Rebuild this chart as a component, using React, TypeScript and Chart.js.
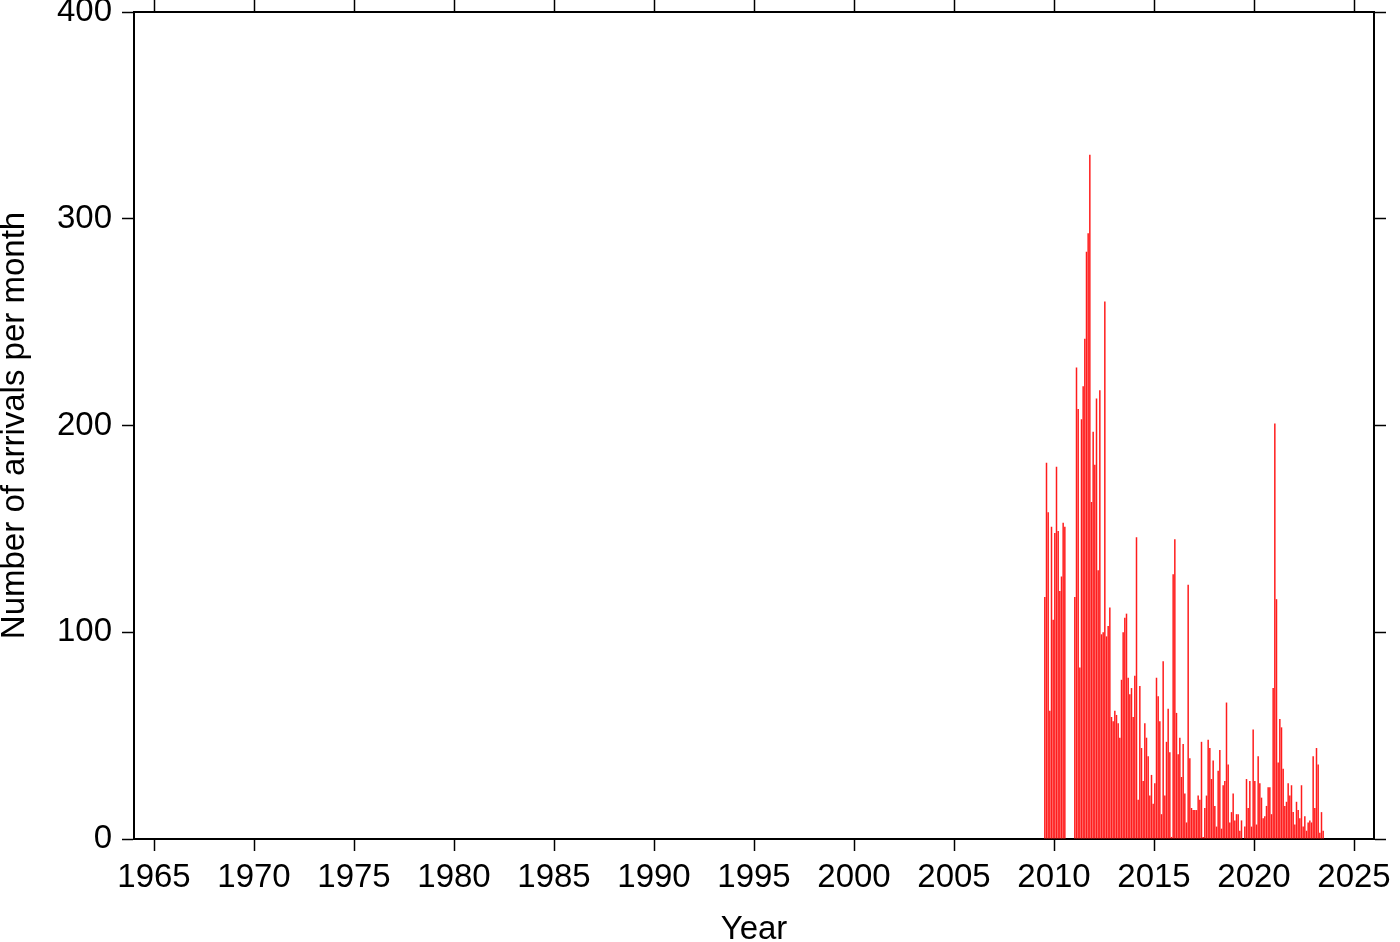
import React, { useEffect, useRef } from "react";
import { Chart, registerables } from "chart.js";

Chart.register(...registerables);

// Monthly arrival counts (first array starts in July 2009, last ends in June 2023)
const startYear = 2009;
const startMonthIndex = 6; // July (0-based)
const arrivals2009 = [117, 182, 158, 62, 151, 106];
const arrivals2010 = [148, 180, 149, 120, 127, 153, 151, 0, 0, 0, 0, 0];
const arrivals2011 = [117, 228, 208, 83, 203, 219, 242, 284, 293, 331, 163, 197];
const arrivals2012 = [181, 213, 130, 217, 99, 100, 260, 98, 103, 112, 59, 57];
const arrivals2013 = [62, 60, 56, 49, 77, 100, 107, 109, 78, 70, 73, 59];
const arrivals2014 = [79, 146, 19, 74, 44, 28, 56, 49, 40, 21, 31, 17];
const arrivals2015 = [27, 78, 69, 57, 12, 86, 21, 47, 63, 42, 1, 128];
const arrivals2016 = [145, 61, 41, 49, 30, 46, 22, 8, 123, 39, 15, 14];
const arrivals2017 = [14, 14, 21, 19, 47, 1, 15, 21, 48, 44, 29, 38];
const arrivals2018 = [16, 6, 33, 43, 5, 26, 28, 66, 36, 8, 13, 22];
const arrivals2019 = [9, 12, 12, 4, 9, 0, 6, 29, 15, 28, 6, 53];
const arrivals2020 = [28, 7, 40, 27, 20, 10, 11, 16, 25, 25, 12, 73];
const arrivals2021 = [201, 116, 37, 58, 54, 34, 16, 18, 27, 21, 26, 13];
const arrivals2022 = [7, 18, 14, 10, 26, 6, 11, 4, 8, 9, 8, 40];
const arrivals2023 = [15, 44, 36, 3, 13, 4];

const yearlySeries = [
  arrivals2009, arrivals2010, arrivals2011, arrivals2012, arrivals2013,
  arrivals2014, arrivals2015, arrivals2016, arrivals2017, arrivals2018,
  arrivals2019, arrivals2020, arrivals2021, arrivals2022, arrivals2023,
];

const xTickYears = [1965, 1970, 1975, 1980, 1985, 1990, 1995, 2000, 2005, 2010, 2015, 2020, 2025];
const yTickValues = [0, 100, 200, 300, 400];
const xMin = 1964;
const xMax = 2026;
const yMin = 0;
const yMax = 400;

const xTitle = "Year";
const yTitle = "Number of arrivals per month";

function buildPoints() {
  const pts: { x: number; y: number }[] = [];
  yearlySeries.forEach((arr, i) => {
    const year = startYear + i;
    const offset = i === 0 ? startMonthIndex : 0;
    arr.forEach((v, k) => {
      pts.push({ x: year + (offset + k + 0.5) / 12, y: v });
    });
  });
  return pts;
}

const FONT = '"Liberation Sans", Arial, Helvetica, sans-serif';

export default function App() {
  const ref = useRef<HTMLCanvasElement>(null);

  useEffect(() => {
    const grid = {
      offset: false,
      drawOnChartArea: false,
      drawTicks: true,
      tickLength: 12,
      tickColor: "#000",
      tickWidth: 1.5,
    };
    const border = { display: true, color: "#000", width: 2 };
    const setXTicks = (s: any) => {
      s.ticks = xTickYears.map((v) => ({ value: v }));
    };
    const setYTicks = (s: any) => {
      s.ticks = yTickValues.map((v) => ({ value: v }));
    };
    const noPad = (s: any) => {
      s.paddingTop = 0;
      s.paddingBottom = 0;
      s.paddingLeft = 0;
      s.paddingRight = 0;
    };

    const chart = new Chart(ref.current as HTMLCanvasElement, {
      type: "bar",
      data: {
        datasets: [
          {
            data: buildPoints(),
            backgroundColor: "#ff1c1c",
            borderWidth: 0,
            barPercentage: 0.9,
            categoryPercentage: 1,
          } as any,
        ],
      },
      options: {
        animation: false,
        responsive: false,
        maintainAspectRatio: false,
        layout: { padding: 0 },
        plugins: { legend: { display: false }, tooltip: { enabled: false } },
        scales: {
          x: {
            type: "linear",
            position: "bottom",
            offset: false,
            min: xMin,
            max: xMax,
            afterBuildTicks: setXTicks,
            afterFit: (s: any) => {
              s.height = 103;
              noPad(s);
            },
            grid,
            border,
            ticks: {
              color: "#000",
              font: { family: FONT, size: 33 },
              padding: 7,
              maxRotation: 0,
              autoSkip: false,
              callback: (v: any) => String(v),
            },
            title: {
              display: true,
              text: xTitle,
              color: "#000",
              font: { family: FONT, size: 33, lineHeight: 0.75 },
              padding: { top: 0, bottom: 0 },
            },
          },
          x2: {
            type: "linear",
            position: "top",
            offset: false,
            min: xMin,
            max: xMax,
            afterBuildTicks: setXTicks,
            afterFit: (s: any) => {
              s.height = 12;
              noPad(s);
            },
            grid,
            border,
            ticks: { display: false },
          },
          y: {
            type: "linear",
            position: "left",
            min: yMin,
            max: yMax,
            afterBuildTicks: setYTicks,
            afterFit: (s: any) => {
              s.width = 134;
              noPad(s);
            },
            grid,
            border,
            ticks: {
              color: "#000",
              font: { family: FONT, size: 33 },
              padding: 10,
              callback: (v: any) => String(v),
            },
            title: {
              display: true,
              text: yTitle,
              color: "#000",
              font: { family: FONT, size: 33, lineHeight: 0.9 },
              padding: { top: 0, bottom: 0 },
            },
          },
          y2: {
            type: "linear",
            position: "right",
            min: yMin,
            max: yMax,
            afterBuildTicks: setYTicks,
            afterFit: (s: any) => {
              s.width = 26;
              noPad(s);
            },
            grid,
            border,
            ticks: { display: false },
          },
        },
      } as any,
    });
    return () => chart.destroy();
  }, []);

  return (
    <div style={{ position: "fixed", left: 0, top: 0, width: 1400, height: 942, background: "#fff" }}>
      <canvas ref={ref} width={1400} height={942} style={{ width: 1400, height: 942, display: "block" }} />
    </div>
  );
}
